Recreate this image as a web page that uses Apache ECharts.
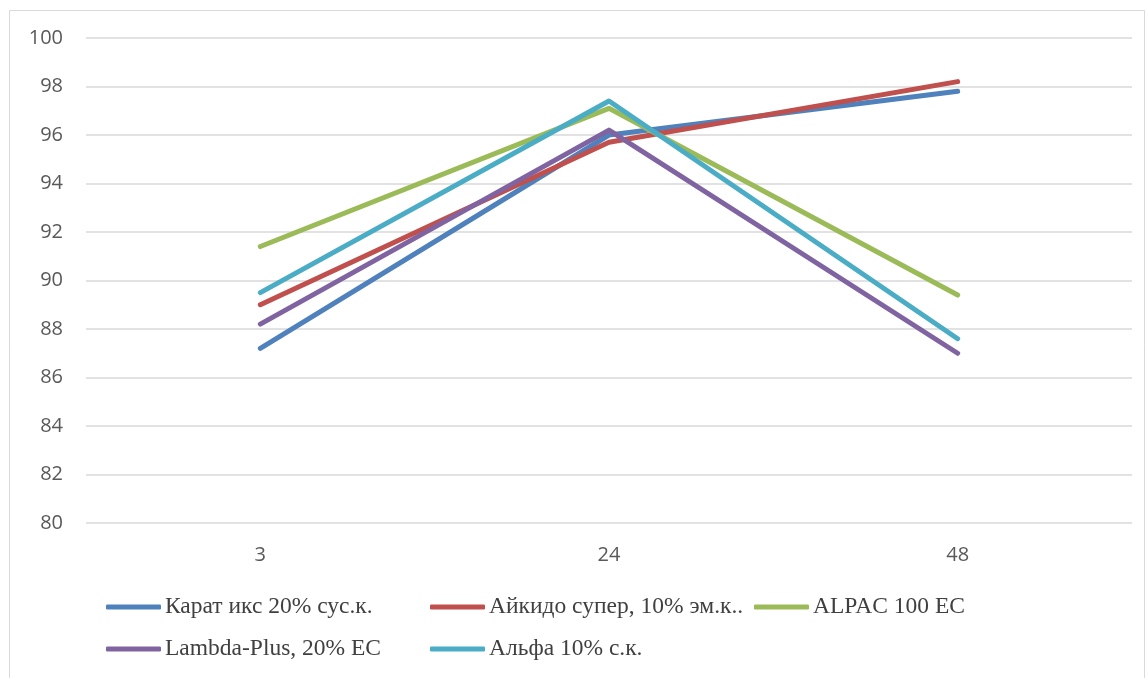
<!DOCTYPE html>
<html><head><meta charset="utf-8">
<script src="https://cdn.jsdelivr.net/npm/echarts@6/dist/echarts.min.js"></script>
<style>html,body{margin:0;padding:0;background:#fff}#c{width:1147px;height:678px}</style>
</head><body><div id="c"></div>
<script>
const categories = ['3', '24', '48'];
const seriesNames = ['Карат икс 20% сус.к.', 'Айкидо супер, 10% эм.к..', 'ALPAC 100 EC', 'Lambda-Plus, 20% EC', 'Альфа 10% с.к.'];
const karat = [87.2, 96.0, 97.8];
const aikido = [89.0, 95.7, 98.2];
const alpac = [91.4, 97.1, 89.4];
const lambda = [88.2, 96.2, 87.0];
const alfa = [89.5, 97.4, 87.6];
const colors = ['#4F81BD', '#C0504D', '#9BBB59', '#8064A2', '#4BACC6'];
const values = [karat, aikido, alpac, lambda, alfa];
const legendPos = [[106, 595], [430, 595], [754, 595], [106, 637], [430, 637]];

const chart = echarts.init(document.getElementById('c'));
chart.setOption({
  animation: false,
  color: colors,
  graphic: [{type: 'rect', shape: {x: 9.5, y: 10.5, width: 1135, height: 680}, style: {fill: 'none', stroke: '#d9d9d9', lineWidth: 1}}],
  grid: {left: 86, right: 15, top: 38, bottom: 155},
  legend: seriesNames.map((n, i) => ({
    data: [n], left: legendPos[i][0], top: legendPos[i][1], padding: 0,
    icon: 'roundRect', itemWidth: 55, itemHeight: 5, itemGap: 0,
    textStyle: {fontFamily: 'Liberation Serif', fontSize: 23.5, lineHeight: 24, color: '#404040', padding: [0, 0, 0, -1]}
  })),
  xAxis: {
    type: 'category', data: categories, boundaryGap: true,
    axisLine: {show: false}, axisTick: {show: false},
    axisLabel: {fontFamily: 'Open Sans', fontSize: 20, color: '#595959', margin: 22}
  },
  yAxis: {
    type: 'value', min: 80, max: 100, interval: 2,
    axisLine: {show: false}, axisTick: {show: false},
    splitLine: {lineStyle: {color: '#d9d9d9', width: 1.5}},
    axisLabel: {fontFamily: 'Open Sans', fontSize: 20, color: '#595959', margin: 23}
  },
  series: seriesNames.map((n, i) => ({
    name: n, type: 'line', data: values[i], symbol: 'none',
    lineStyle: {width: 5, cap: 'round', join: 'round', color: colors[i]},
    itemStyle: {color: colors[i]}
  }))
});
</script></body></html>
